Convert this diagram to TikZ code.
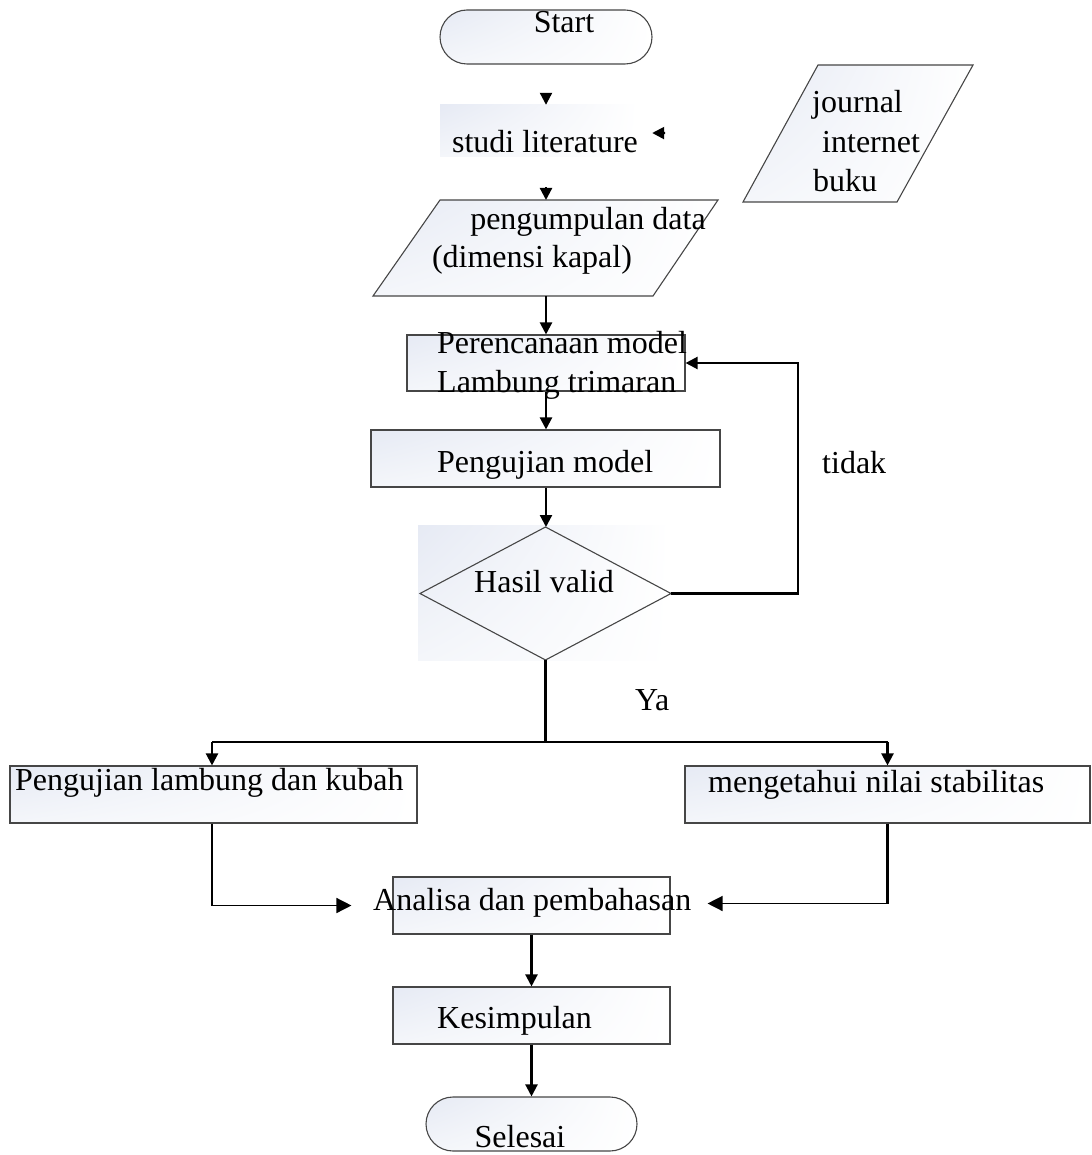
\documentclass[tikz,border=0pt]{standalone}
\usepackage{fontspec}
\setmainfont{Liberation Serif}
\usetikzlibrary{arrows.meta,calc,shadings}
\definecolor{shadeA}{RGB}{230,234,244}
\definecolor{shadeB}{RGB}{244,246,250}
\definecolor{edge}{RGB}{70,70,70}
\begin{document}
\begin{tikzpicture}[x=1pt,y=-1pt,
  txt/.style={font=\fontsize{32}{38}\selectfont, inner sep=0pt},
  shadebox/.style={shade, upper left=shadeA, upper right=white, lower left=shadeB, lower right=white, inner sep=0pt},
  framebox/.style={shadebox, draw=edge, line width=1.1pt},
  ghost/.style={inner sep=0pt, outer sep=0pt},
  conn/.style={line width=2.2pt, -{Triangle[length=12pt,width=12pt]}},
  thinconn/.style={line width=1.4pt, -{Triangle[length=15pt,width=15pt]}},
  wire/.style={line width=2.2pt}
]
\useasboundingbox (0,0) rectangle (1091,1155);

% ---------- shapes ----------
\node[framebox, rounded corners=27pt, minimum width=212pt, minimum height=54pt] (start) at (546,37) {};
\node[shadebox, minimum width=198pt, minimum height=52pt] (studi) at (539,131) {};

% journal parallelogram
\node[ghost, minimum width=230pt, minimum height=137pt] (journal) at (858,133.5) {};
\path[framebox] ($(journal.north west)+(75,0)$) -- (journal.north east) -- ($(journal.south east)+(-76,0)$) -- (journal.south west) -- cycle;

% pengumpulan parallelogram
\node[ghost, minimum width=345pt, minimum height=96pt] (peng) at (545.5,248) {};
\path[framebox] ($(peng.north west)+(67,0)$) -- (peng.north east) -- ($(peng.south east)+(-65,0)$) -- (peng.south west) -- cycle;

\node[framebox, minimum width=278pt, minimum height=56pt] (pere) at (546,363) {};
\node[framebox, minimum width=349pt, minimum height=57pt] (uji) at (545.5,458.5) {};

% decision
\node[shadebox, upper right=white, lower right=white, minimum width=252pt, minimum height=135pt] (decbg) at (544,592.5) {};
\node[ghost, minimum width=251pt, minimum height=133pt] (dec) at (545.5,593.5) {};
\path[draw=edge, line width=1.1pt] (dec.north) -- (dec.east) -- (dec.south) -- (dec.west) -- cycle;

\node[framebox, minimum width=407pt, minimum height=57pt] (lb) at (213.5,794.5) {};
\node[framebox, minimum width=405pt, minimum height=57pt] (rb) at (887.5,794.5) {};
\node[framebox, minimum width=277pt, minimum height=57pt] (ana) at (531.5,905.5) {};
\node[framebox, minimum width=277pt, minimum height=57pt] (kes) at (531.5,1015.5) {};
\node[framebox, rounded corners=27pt, minimum width=211pt, minimum height=54pt] (sel) at (531.5,1124) {};

% ---------- texts ----------
\node[txt, anchor=base] (tstart) at (564,33) {Start};
\node[txt, anchor=base] (tstudi) at (545,153) {studi literature};
\node[txt, anchor=base west] (tj1) at (812,113) {journal};
\node[txt, anchor=base west] (tj2) at (822,153) {internet};
\node[txt, anchor=base west] (tj3) at (813,192) {buku};
\node[txt, anchor=base] (tp1) at (588,230) {pengumpulan data};
\node[txt, anchor=base] (tp2) at (532,268) {(dimensi kapal)};
\node[txt, anchor=base west] (tr1) at (437,353) {Perencanaan model};
\node[txt, anchor=base west] (tr2) at (437,392) {Lambung trimaran};
\node[txt, anchor=base west] (tu) at (437,472) {Pengujian model};
\node[txt, anchor=base] (td) at (544,592) {Hasil valid};
\node[txt, anchor=base west] (ttidak) at (822,473) {tidak};
\node[txt, anchor=base west] (tya) at (635,710) {Ya};
\node[txt, anchor=base west] (tlb) at (15,790) {Pengujian lambung dan kubah};
\node[txt, anchor=base west] (trb) at (708,792) {mengetahui nilai stabilitas};
\node[txt, anchor=base west] (tana) at (373,910) {Analisa dan pembahasan};
\node[txt, anchor=base west] (tkes) at (437,1028) {Kesimpulan};
\node[txt, anchor=base] (tsel) at (520,1147) {Selesai};

% ---------- connectors ----------
\coordinate (xl) at (212,0);
\draw[conn, shorten <=29pt] (start.south) -- (start.south |- studi.north);
\draw[conn, shorten <=78pt] (journal.west) -- ($(studi.east)+(14,2)$);
\draw[conn, shorten <=30pt] (start.south |- studi.south) -- (start.south |- peng.north);
\draw[conn] (start.south |- peng.south) -- (start.south |- pere.north);
\draw[conn] (start.south |- pere.south) -- (start.south |- uji.north);
\draw[conn] (start.south |- uji.south) -- (start.south |- dec.north);
\draw[conn] (dec.east) -- ++(127,0) |- (pere.east);
\draw[wire] (dec.south) -- ++(0,82) coordinate (split);
\draw[wire] (xl |- split) -- (rb.north |- split);
\draw[conn] (xl |- split) -- (xl |- lb.north);
\draw[conn] (rb.north |- split) -- (rb.north);
\draw[wire] (xl |- lb.south) -- (xl |- ana.west);
\draw[thinconn] (xl |- ana.west) -- ($(ana.west)+(-41,0)$);
\draw[wire] (rb.south) -- ($(rb.south |- ana.east)+(0,-2)$);
\draw[thinconn] ($(rb.south |- ana.east)+(0,-2)$) -- ($(ana.east)+(37,-2)$);
\draw[conn] (ana.south) -- (kes.north);
\draw[conn] (kes.south) -- (sel.north);
\end{tikzpicture}
\end{document}
